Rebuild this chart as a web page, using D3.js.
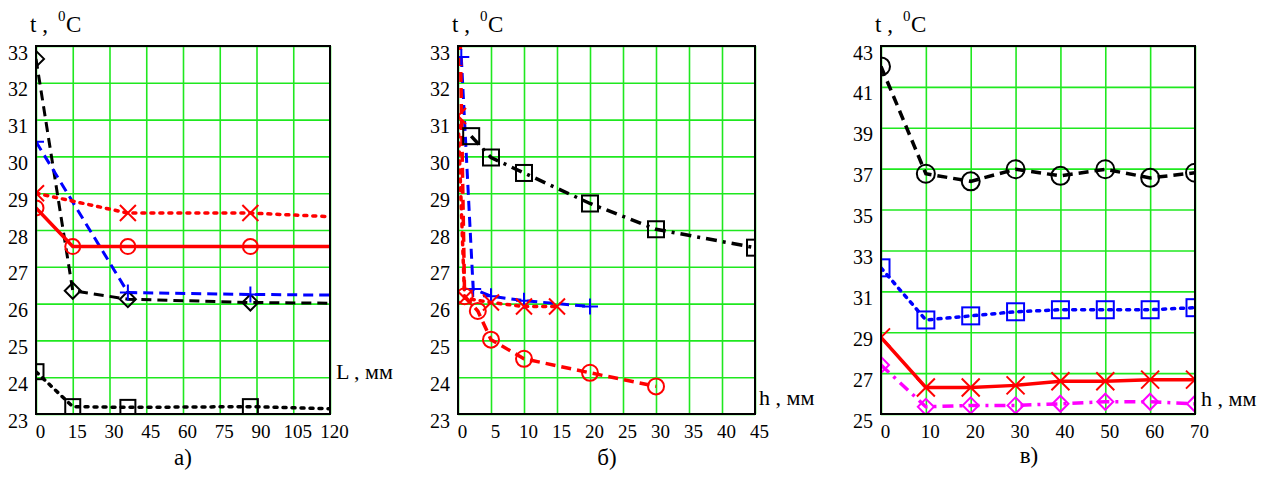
<!DOCTYPE html>
<html><head><meta charset="utf-8">
<script src="https://cdn.jsdelivr.net/npm/d3@7"></script>
<style>
body{margin:0;background:#fff}
svg{display:block}
</style>
</head><body>
<svg id="chart" width="1278" height="490"></svg>
<script>
// ---------- Panel а) ----------
const aXTicks = [0, 15, 30, 45, 60, 75, 90, 105, 120];
const aYTicks = [23, 24, 25, 26, 27, 28, 29, 30, 31, 32, 33];
const aDiamondX = [0, 15, 37.5, 87.5, 137.5];
const aDiamondY = [32.65, 26.35, 26.12, 26.03, 26.0];
const aPlusX = [0, 37.5, 87.5, 137.5];
const aPlusY = [30.4, 26.3, 26.25, 26.22];
const aCrossX = [0, 37.5, 87.5, 137.5];
const aCrossY = [29.0, 28.46, 28.46, 28.31];
const aCircleX = [0, 15, 37.5, 87.5, 137.5];
const aCircleY = [28.6, 27.55, 27.55, 27.55, 27.55];
const aSquareX = [0, 15, 37.5, 87.5, 137.5];
const aSquareY = [24.15, 23.2, 23.18, 23.2, 23.11];

// ---------- Panel б) ----------
const bXTicks = [0, 5, 10, 15, 20, 25, 30, 35, 40, 45];
const bYTicks = [23, 24, 25, 26, 27, 28, 29, 30, 31, 32, 33];
const bSquareX = [2, 5, 10, 20, 30, 45];
const bSquareY = [30.55, 29.97, 29.55, 28.72, 28.02, 27.52];
const bPlusX = [0.5, 2.3, 5, 10, 20];
const bPlusY = [32.7, 26.4, 26.2, 26.08, 25.92];
const bCrossX = [0, 1, 5, 10, 15];
const bCrossY = [31.1, 26.15, 26.03, 25.92, 25.92];
const bCircleX = [0.3, 1, 3, 5, 10, 20, 30];
const bCircleY = [33.6, 26.2, 25.8, 25.02, 24.5, 24.12, 23.75];

// ---------- Panel в) ----------
const cXTicks = [0, 10, 20, 30, 40, 50, 60, 70];
const cYTicks = [25, 27, 29, 31, 33, 35, 37, 39, 41, 43];
const cX = [0, 10, 20, 30, 40, 50, 60, 70];
const cCircleY = [42.0, 36.75, 36.38, 36.97, 36.65, 36.97, 36.55, 36.8];
const cSquareY = [32.15, 29.6, 29.8, 30.0, 30.1, 30.1, 30.1, 30.2];
const cCrossY = [28.75, 26.3, 26.3, 26.4, 26.6, 26.6, 26.68, 26.68];
const cDiamondY = [27.4, 25.35, 25.42, 25.42, 25.5, 25.6, 25.6, 25.5];

const zip = (xs, ys) => xs.map((x, i) => [x, ys[i]]);

const RED = "#ff0000", BLUE = "#0000ff", BLACK = "#000000", MAG = "#ff00ff", GRID = "#1fe81f";
const DASH = "10,6", DOT = "3,6", DASHDOT = "11,6,3,6";

const panels = [
  {
    id: "a", left: 36, right: 330, top: 46, bottom: 414,
    xDomain: [0, 120], yDomain: [23, 33], xTicks: aXTicks, yTicks: aYTicks,
    xLabel: "L , мм", xLabelPos: [336, 379], letter: "а)", letterPos: [183, 465],
    series: [
      { pts: zip(aDiamondX, aDiamondY), color: BLACK, dash: DASH, w: 3, marker: "diamond", ms: 8 },
      { pts: zip(aPlusX, aPlusY), color: BLUE, dash: DASH, w: 3, marker: "plus", ms: 8 },
      { pts: zip(aCrossX, aCrossY), color: RED, dash: DOT, w: 3.5, marker: "cross", ms: 8 },
      { pts: zip(aCircleX, aCircleY), color: RED, dash: null, w: 3.5, marker: "circle", ms: 7.5 },
      { pts: zip(aSquareX, aSquareY), color: BLACK, dash: DOT, w: 3.5, marker: "square", ms: 7.5 }
    ]
  },
  {
    id: "b", left: 458, right: 755, top: 46, bottom: 414,
    xDomain: [0, 45], yDomain: [23, 33], xTicks: bXTicks, yTicks: bYTicks,
    xLabel: "h , мм", xLabelPos: [759, 405], letter: "б)", letterPos: [607, 465],
    series: [
      { pts: zip(bSquareX, bSquareY), color: BLACK, dash: DASHDOT, w: 3.5, marker: "square", ms: 8 },
      { pts: zip(bPlusX, bPlusY), color: BLUE, dash: DASH, w: 3, marker: "plus", ms: 8 },
      { pts: zip(bCrossX, bCrossY), color: RED, dash: DOT, w: 3.5, marker: "cross", ms: 8 },
      { pts: zip(bCircleX, bCircleY), color: RED, dash: DASH, w: 3.5, marker: "circle", ms: 8 }
    ]
  },
  {
    id: "c", left: 881, right: 1195, top: 46, bottom: 414,
    xDomain: [0, 70], yDomain: [25, 43], xTicks: cXTicks, yTicks: cYTicks,
    xLabel: "h , мм", xLabelPos: [1201, 406], letter: "в)", letterPos: [1029, 463],
    series: [
      { pts: zip(cX, cCircleY), color: BLACK, dash: DASH, w: 3.5, marker: "circle", ms: 9 },
      { pts: zip(cX, cSquareY), color: BLUE, dash: DOT, w: 3.5, marker: "square", ms: 8.5 },
      { pts: zip(cX, cCrossY), color: RED, dash: null, w: 3.5, marker: "cross", ms: 9 },
      { pts: zip(cX, cDiamondY), color: MAG, dash: DASHDOT, w: 3.5, marker: "diamond", ms: 8 }
    ]
  }
];

const svg = d3.select("#chart");
const FONT = "Liberation Serif, Times New Roman, DejaVu Serif, serif";

function drawMarker(g, type, x, y, s, color) {
  let el;
  if (type === "circle") {
    el = g.append("circle").attr("cx", x).attr("cy", y).attr("r", s);
  } else if (type === "square") {
    el = g.append("rect").attr("x", x - s).attr("y", y - s).attr("width", 2 * s).attr("height", 2 * s);
  } else if (type === "diamond") {
    el = g.append("path").attr("d", `M${x},${y - s}L${x + s},${y}L${x},${y + s}L${x - s},${y}Z`);
  } else if (type === "plus") {
    el = g.append("path").attr("d", `M${x - s},${y}H${x + s}M${x},${y - s}V${y + s}`);
  } else if (type === "cross") {
    el = g.append("path").attr("d", `M${x - s},${y - s}L${x + s},${y + s}M${x - s},${y + s}L${x + s},${y - s}`);
  }
  el.attr("stroke", color).attr("stroke-width", 2).attr("fill", "none");
}

panels.forEach(p => {
  const x = d3.scaleLinear().domain(p.xDomain).range([p.left, p.right]);
  const y = d3.scaleLinear().domain(p.yDomain).range([p.bottom, p.top]);
  const g = svg.append("g");

  svg.append("clipPath").attr("id", "clip-" + p.id)
    .append("rect").attr("x", p.left).attr("y", p.top)
    .attr("width", p.right - p.left).attr("height", p.bottom - p.top);

  // grid
  const gx = g.append("g").attr("transform", `translate(0,${p.bottom})`)
    .call(d3.axisBottom(x).tickValues(p.xTicks).tickSize(-(p.bottom - p.top)).tickFormat(""));
  gx.select(".domain").remove();
  gx.selectAll("line").attr("stroke", GRID).attr("stroke-width", 1.6);
  const gy = g.append("g").attr("transform", `translate(${p.left},0)`)
    .call(d3.axisLeft(y).tickValues(p.yTicks).tickSize(-(p.right - p.left)).tickFormat(""));
  gy.select(".domain").remove();
  gy.selectAll("line").attr("stroke", GRID).attr("stroke-width", 1.6);

  // tick labels
  const lx = g.append("g").attr("transform", `translate(4,${p.bottom + 24})`)
    .call(d3.axisBottom(x).tickValues(p.xTicks).tickSize(0).tickPadding(0));
  lx.attr("font-family", FONT).attr("font-size", 19);
  lx.select(".domain").remove();
  lx.selectAll("text").attr("fill", "#000").attr("dy", 0);
  const ly = g.append("g").attr("transform", `translate(${p.left - 8},13)`)
    .call(d3.axisLeft(y).tickValues(p.yTicks).tickSize(0).tickPadding(0));
  ly.attr("font-family", FONT).attr("font-size", 20);
  ly.select(".domain").remove();
  ly.selectAll("text").attr("fill", "#000").attr("dy", 0);

  // series
  const plot = g.append("g").attr("clip-path", `url(#clip-${p.id})`);
  const line = d3.line().x(d => x(d[0])).y(d => y(d[1]));
  p.series.forEach(s => {
    plot.append("path").datum(s.pts).attr("d", line)
      .attr("fill", "none").attr("stroke", s.color).attr("stroke-width", s.w)
      .attr("stroke-dasharray", s.dash).attr("stroke-linecap", s.dash === DOT ? "round" : "butt");
  });
  p.series.forEach(s => {
    s.pts.forEach(d => drawMarker(plot, s.marker, x(d[0]), y(d[1]), s.ms, s.color));
  });

  // frame
  g.append("rect").attr("x", p.left).attr("y", p.top)
    .attr("width", p.right - p.left).attr("height", p.bottom - p.top)
    .attr("fill", "none").attr("stroke", "#000").attr("stroke-width", 2);

  // y title
  const t = g.append("text").attr("font-family", FONT).attr("fill", "#000");
  t.append("tspan").attr("x", p.left - 6).attr("y", 32).attr("font-size", 23).text("t ,");
  t.append("tspan").attr("x", p.left + 22).attr("y", 21).attr("font-size", 15).text("0");
  t.append("tspan").attr("x", p.left + 30).attr("y", 32).attr("font-size", 23).text("C");

  // x label
  g.append("text").attr("x", p.xLabelPos[0]).attr("y", p.xLabelPos[1])
    .attr("font-family", FONT).attr("font-size", 22).attr("fill", "#000").text(p.xLabel);

  // panel letter
  g.append("text").attr("x", p.letterPos[0]).attr("y", p.letterPos[1])
    .attr("text-anchor", "middle").attr("font-family", FONT).attr("font-size", 23)
    .attr("fill", "#000").text(p.letter);
});
</script>
</body></html>
